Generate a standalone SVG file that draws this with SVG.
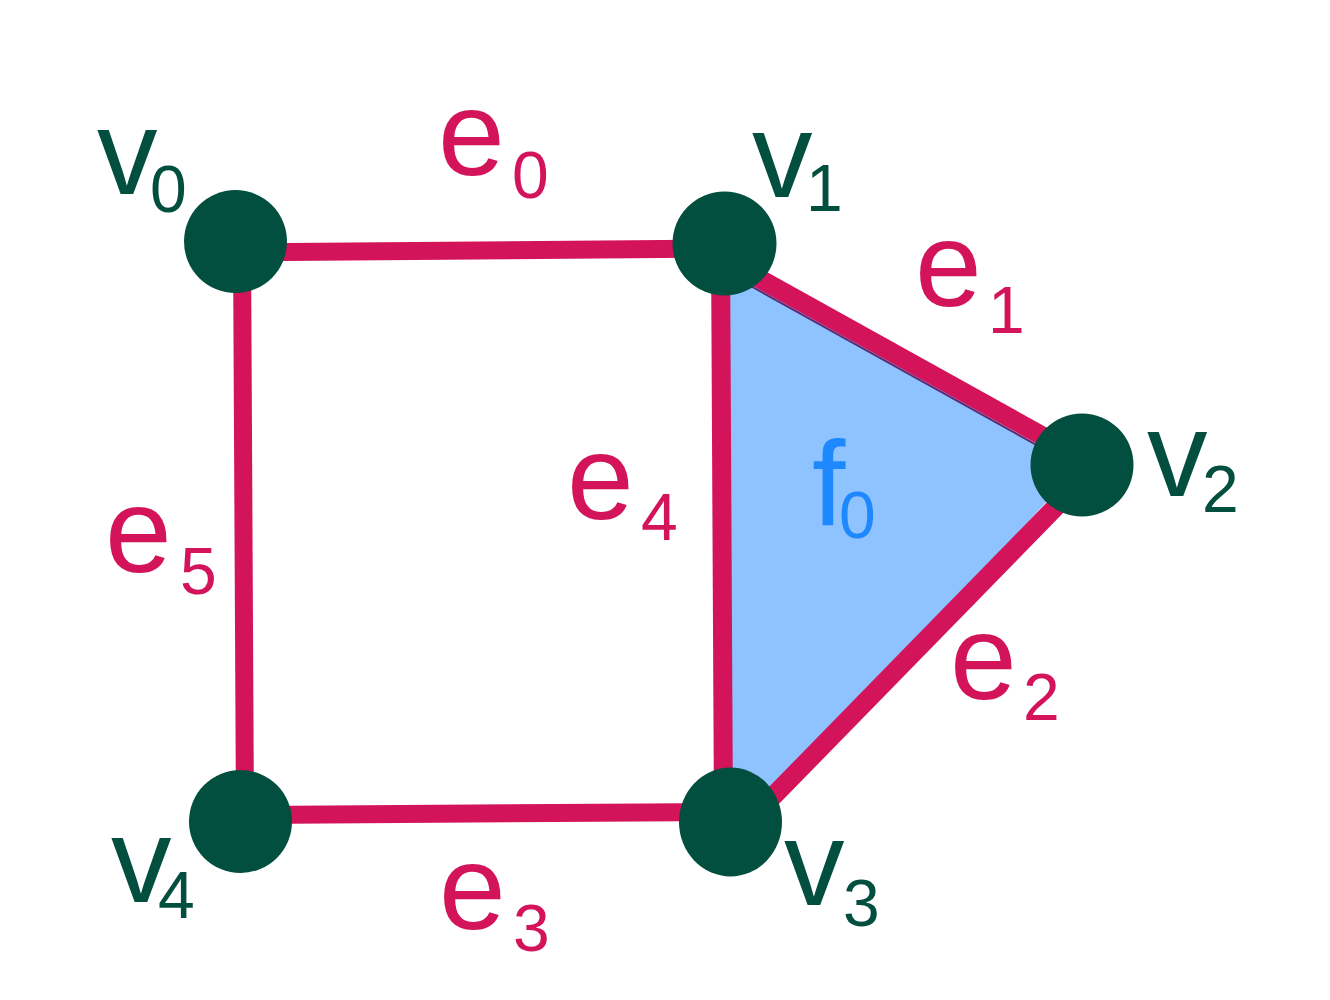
<svg xmlns="http://www.w3.org/2000/svg" width="1330" height="1000" viewBox="0 0 1330 1000">
  <style>
    .edge { stroke: #D4145A; stroke-width: 18; stroke-linecap: butt; fill: none; }
    .node { fill: #034F3F; }
    .vl { font-family: "Liberation Sans", Arial, sans-serif; fill: #034F3F; font-size: 121px; }
    .vs { font-family: "Liberation Sans", Arial, sans-serif; fill: #034F3F; font-size: 66px; }
    .el { font-family: "Liberation Sans", Arial, sans-serif; fill: #D4145A; font-size: 120px; }
    .es { font-family: "Liberation Sans", Arial, sans-serif; fill: #D4145A; font-size: 66px; }
    .fl { font-family: "Liberation Sans", Arial, sans-serif; fill: #1E88FF; font-size: 120px; }
    .fs { font-family: "Liberation Sans", Arial, sans-serif; fill: #1E88FF; font-size: 66px; }
  </style>
  <rect width="1330" height="1000" fill="#FFFFFF"/>

  <g id="face-f0">
    <polygon points="720,262 1078,468 752,818 724,818" fill="#8EC3FF"/>
    <line x1="720" y1="269" x2="1078" y2="468" stroke="#5A2A6E" stroke-width="2"/>
    <text class="fl" x="812" y="525">f</text>
    <text class="fs" x="839" y="538">0</text>
  </g>

  <g id="connectors">
    <g id="e0">
      <line class="edge" x1="236" y1="252.5" x2="724" y2="248.5"/>
      <text class="el" x="438" y="175">e</text>
      <text class="es" x="512" y="198">0</text>
    </g>
    <g id="e1">
      <line class="edge" x1="724" y1="259" x2="1082" y2="458" style="stroke-width:19"/>
      <text class="el" x="915" y="306">e</text>
      <text class="es" x="988" y="333">1</text>
    </g>
    <g id="e2">
      <line class="edge" x1="1084" y1="478" x2="750" y2="820" style="stroke-width:19"/>
      <text class="el" x="950" y="699">e</text>
      <text class="es" x="1023" y="720">2</text>
    </g>
    <g id="e3">
      <line class="edge" x1="241" y1="815" x2="730" y2="812"/>
      <text class="el" x="439" y="929">e</text>
      <text class="es" x="513" y="951">3</text>
    </g>
    <g id="e4">
      <line class="edge" x1="720.5" y1="243" x2="723.5" y2="822" style="stroke-width:19"/>
      <text class="el" x="567" y="519">e</text>
      <text class="es" x="641" y="540">4</text>
    </g>
    <g id="e5">
      <line class="edge" x1="242" y1="242" x2="245" y2="821"/>
      <text class="el" x="105" y="572">e</text>
      <text class="es" x="180" y="594">5</text>
    </g>
  </g>

  <g id="v0">
    <circle class="node" cx="235.5" cy="241.5" r="51.5"/>
    <text class="vl" x="97" y="194">v</text>
    <text class="vs" x="150" y="212">0</text>
  </g>
  <g id="v1">
    <circle class="node" cx="724.5" cy="243.5" r="52"/>
    <text class="vl" x="752" y="197">v</text>
    <text class="vs" x="806" y="211">1</text>
  </g>
  <g id="v2">
    <circle class="node" cx="1082" cy="465" r="51.5"/>
    <text class="vl" x="1147" y="496">v</text>
    <text class="vs" x="1202" y="512">2</text>
  </g>
  <g id="v3">
    <ellipse class="node" cx="730.5" cy="822" rx="51.5" ry="54.5"/>
    <text class="vl" x="784" y="905">v</text>
    <text class="vs" x="843" y="926">3</text>
  </g>
  <g id="v4">
    <circle class="node" cx="240.5" cy="821.5" r="51.5"/>
    <text class="vl" x="111" y="902">v</text>
    <text class="vs" x="158" y="918">4</text>
  </g>
</svg>
